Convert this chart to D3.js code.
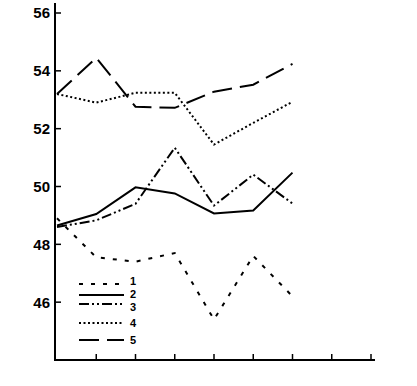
<!DOCTYPE html>
<html>
<head>
<meta charset="utf-8">
<script src="https://cdn.jsdelivr.net/npm/d3@7"></script>
<style>
  body { margin: 0; background: #fff; }
  text { font-family: "Liberation Sans Narrow", "Liberation Sans", sans-serif; font-weight: bold; }
</style>
</head>
<body>
<div id="chart"></div>
<script>
var width = 417, height = 386;

// data
var xSteps = [0, 1, 2, 3, 4, 5, 6];
var yTicks = [46, 48, 50, 52, 54, 56];
var seriesNames = ["1", "2", "3", "4", "5"];
var s1 = [48.9, 47.55, 47.4, 47.7, 45.4, 47.6, 46.2];
var s2 = [48.65, 49.05, 49.97, 49.76, 49.07, 49.17, 50.48];
var s3 = [48.6, 48.83, 49.4, 51.34, 49.34, 50.41, 49.41];
var s4 = [53.2, 52.9, 53.24, 53.24, 51.45, 52.2, 52.93];
var s5 = [53.2, 54.45, 52.76, 52.72, 53.28, 53.52, 54.24];
var dashes = ["4,8", null, "10,3,2,3,2,3", "2,2.5", "20,8"];

var allSeries = [s1, s2, s3, s4, s5];

var svg = d3.select("#chart").append("svg")
  .attr("width", width)
  .attr("height", height);

var x = d3.scaleLinear().domain([0, 8]).range([57, 371]);
var y = d3.scaleLinear().domain([44, 56]).range([360, 13]);

// axes
svg.append("line")
  .attr("x1", 55).attr("x2", 55)
  .attr("y1", 3).attr("y2", 361)
  .attr("stroke", "#000").attr("stroke-width", 2);
svg.append("line")
  .attr("x1", 54).attr("x2", 375)
  .attr("y1", 360).attr("y2", 360)
  .attr("stroke", "#000").attr("stroke-width", 2);

svg.selectAll("line.ytick")
  .data(yTicks)
  .enter().append("line")
  .attr("class", "ytick")
  .attr("x1", 55).attr("x2", 61)
  .attr("y1", function (d) { return y(d); })
  .attr("y2", function (d) { return y(d); })
  .attr("stroke", "#000").attr("stroke-width", 1.5);

svg.selectAll("text.ylabel")
  .data(yTicks)
  .enter().append("text")
  .attr("class", "ylabel")
  .attr("x", 50)
  .attr("y", function (d) { return y(d); })
  .attr("dy", "0.36em")
  .attr("text-anchor", "end")
  .attr("font-size", 15)
  .text(function (d) { return d; });

svg.selectAll("line.xtick")
  .data(d3.range(1, 9))
  .enter().append("line")
  .attr("class", "xtick")
  .attr("x1", function (d) { return x(d); })
  .attr("x2", function (d) { return x(d); })
  .attr("y1", 360).attr("y2", 354)
  .attr("stroke", "#000").attr("stroke-width", 1.5);

// lines
var line = d3.line()
  .x(function (d, i) { return x(xSteps[i]); })
  .y(function (d) { return y(d); });

svg.selectAll("path.series")
  .data(allSeries)
  .enter().append("path")
  .attr("class", "series")
  .attr("d", line)
  .attr("fill", "none")
  .attr("stroke", "#000")
  .attr("stroke-width", 2)
  .attr("stroke-dasharray", function (d, i) { return dashes[i]; });

// legend (labels 2 and 3 sit very close in the original)
var legendY = [284, 295, 304, 323, 340];
var labelY = [281, 294, 307, 323, 340];

svg.selectAll("line.legend")
  .data(seriesNames)
  .enter().append("line")
  .attr("class", "legend")
  .attr("x1", 79).attr("x2", 124)
  .attr("y1", function (d, i) { return legendY[i]; })
  .attr("y2", function (d, i) { return legendY[i]; })
  .attr("stroke", "#000")
  .attr("stroke-width", 2)
  .attr("stroke-dasharray", function (d, i) { return dashes[i]; });

svg.selectAll("text.legend")
  .data(seriesNames)
  .enter().append("text")
  .attr("class", "legend")
  .attr("x", 130)
  .attr("y", function (d, i) { return labelY[i]; })
  .attr("dy", "0.36em")
  .attr("font-size", 11)
  .text(function (d) { return d; });
</script>
</body>
</html>
